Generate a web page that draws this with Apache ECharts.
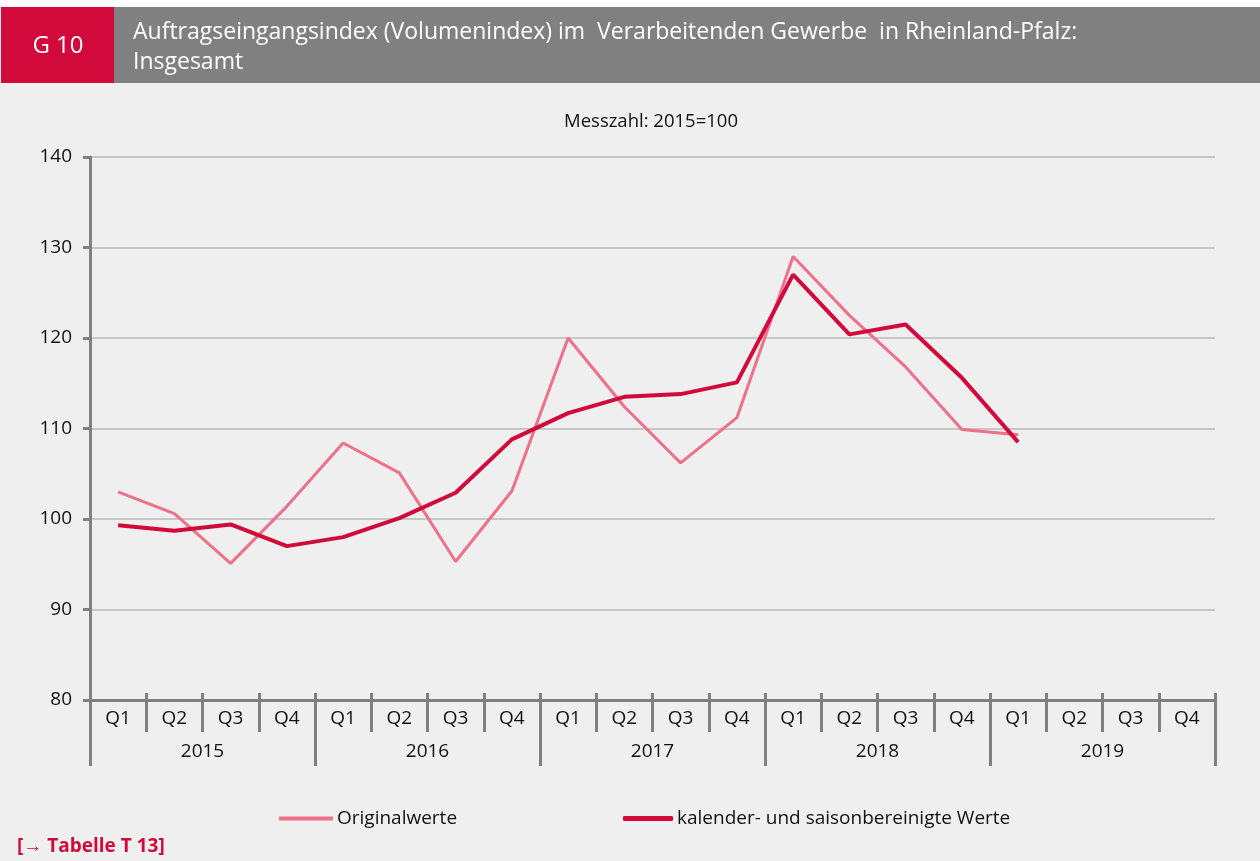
<!DOCTYPE html>
<html><head><meta charset="utf-8">
<script src="https://cdn.jsdelivr.net/npm/echarts@6/dist/echarts.min.js"></script>
<style>html,body{margin:0;padding:0;background:#eeefee}#c{width:1260px;height:861px}</style>
</head><body><div id="c"></div>
<script>
const quarters = ['Q1','Q2','Q3','Q4','Q1','Q2','Q3','Q4','Q1','Q2','Q3','Q4','Q1','Q2','Q3','Q4','Q1','Q2','Q3','Q4'];
const years = ['2015','2016','2017','2018','2019'];
const originalwerte = [103.0,100.6,95.1,101.4,108.4,105.1,95.3,103.1,120.0,112.4,106.2,111.2,129.0,122.5,116.8,109.9,109.3];
const bereinigt = [99.3,98.7,99.4,97.0,98.0,100.1,102.9,108.8,111.7,113.5,113.8,115.1,127.0,120.4,121.5,115.6,108.5];
const yTicks = {min:80, max:140, interval:10};
const FONT = '"Open Sans", sans-serif';
const TXT = '#111111';
const chart = echarts.init(document.getElementById('c'), null, {renderer:'canvas'});
chart.setOption({
  backgroundColor:'#eeefee',
  animation:false,
  textStyle:{fontFamily:FONT},
  graphic:[
    {type:'rect', shape:{x:0,y:0,width:1260,height:7}, style:{fill:'#ffffff'}},
    {type:'rect', shape:{x:1,y:7,width:113,height:76}, style:{fill:'#d20a3c'}},
    {type:'rect', shape:{x:114,y:7,width:1146,height:76}, style:{fill:'#808080'}},
    {type:'text', x:58, y:46, style:{text:'G 10', fill:'#fff', font:'24px '+FONT, textAlign:'center', textVerticalAlign:'middle'}},
    {type:'text', x:133, y:32, style:{text:'Auftragseingangsindex (Volumenindex) im  Verarbeitenden Gewerbe  in Rheinland-Pfalz:', fill:'#fff', font:'23px '+FONT, textVerticalAlign:'middle'}},
    {type:'text', x:133, y:62, style:{text:'Insgesamt', fill:'#fff', font:'23px '+FONT, textVerticalAlign:'middle'}},
    {type:'text', x:651, y:122, style:{text:'Messzahl: 2015=100', fill:TXT, font:'18.5px '+FONT, textAlign:'center', textVerticalAlign:'middle'}},
    {type:'text', x:17, y:847, style:{text:'[\u2192 Tabelle T 13]', fill:'#d20a3c', font:'bold 19px '+FONT, textVerticalAlign:'middle'}}
  ],
  legend:[
    {data:['Originalwerte'], left:279, top:809, padding:0, itemWidth:54, itemHeight:4, icon:'rect',
     textStyle:{fontSize:19, color:TXT, fontFamily:FONT, padding:[0,0,0,-1]}},
    {data:['kalender- und saisonbereinigte Werte'], left:623, top:809, padding:0, itemWidth:50, itemHeight:5, icon:'roundRect',
     textStyle:{fontSize:19, color:TXT, fontFamily:FONT, padding:[0,0,0,-1]}}
  ],
  grid:{left:90, right:45, top:157, bottom:161, containLabel:false},
  xAxis:[
    {type:'category', data:quarters, position:'bottom', boundaryGap:true,
     axisLine:{show:true, lineStyle:{color:'#808080', width:3}},
     axisTick:{show:true, interval:0, length:32, lineStyle:{color:'#808080', width:3}},
     axisLabel:{interval:0, margin:9, fontSize:19, color:TXT, fontFamily:FONT},
     splitLine:{show:false}},
    {type:'category', data:years, position:'bottom', boundaryGap:true,
     axisLine:{show:false},
     axisTick:{show:true, interval:0, length:66, lineStyle:{color:'#808080', width:3}},
     axisLabel:{interval:0, margin:42, fontSize:19, color:TXT, fontFamily:FONT},
     splitLine:{show:false}},
    {type:'category', data:quarters, position:'bottom', boundaryGap:true,
     axisLine:{show:false},
     axisTick:{show:true, inside:true, interval:0, length:7, lineStyle:{color:'#808080', width:3}},
     axisLabel:{show:false}, splitLine:{show:false}}
  ],
  yAxis:{type:'value', min:yTicks.min, max:yTicks.max, interval:yTicks.interval,
     axisLine:{show:true, lineStyle:{color:'#808080', width:3}},
     axisTick:{show:true, length:7, lineStyle:{color:'#808080', width:3}},
     axisLabel:{margin:18, fontSize:19, color:TXT, fontFamily:FONT},
     splitLine:{show:true, lineStyle:{color:'#c6c6c6', width:2}}},
  series:[
    {name:'Originalwerte', type:'line', data:originalwerte, xAxisIndex:0, symbol:'none',
     lineStyle:{color:'#ef7089', width:3}, itemStyle:{color:'#ef7089'}},
    {name:'kalender- und saisonbereinigte Werte', type:'line', data:bereinigt, xAxisIndex:0, symbol:'none',
     lineStyle:{color:'#d20a3c', width:4}, itemStyle:{color:'#d20a3c'}}
  ]
});
</script></body></html>
